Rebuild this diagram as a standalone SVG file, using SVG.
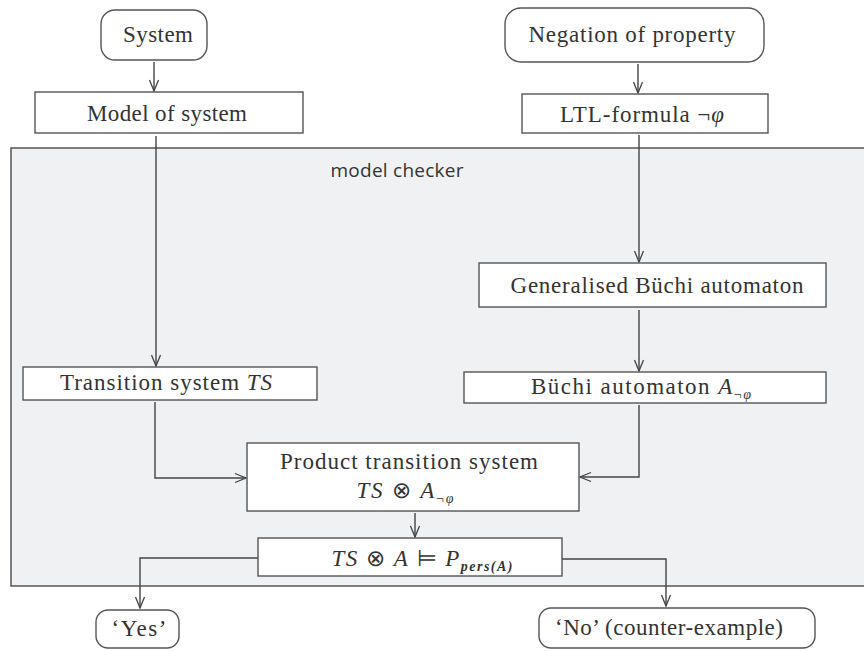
<svg xmlns="http://www.w3.org/2000/svg" width="864" height="651" viewBox="0 0 864 651">
<defs>
<marker id="arr" viewBox="-12 -6 14 12" markerWidth="14" markerHeight="12" refX="0" refY="0" orient="auto" markerUnits="userSpaceOnUse">
<path d="M-11,-4.5 L0,0 L-11,4.5" fill="none" stroke="#444" stroke-width="1.3"/>
</marker>
</defs>
<style>
.box{fill:#fff;stroke:#555;stroke-width:1.4}
.mc{fill:#f0f1f3;stroke:#555;stroke-width:1.5}
.t{font-family:"Liberation Serif","Times New Roman",serif;font-size:23px;fill:#333;text-anchor:middle}
.it{font-style:italic}
.sub{font-size:14px}
.lbl{font-family:"Open Sans","Noto Sans",sans-serif;font-size:19px;fill:#333;text-anchor:middle}
.c{fill:none;stroke:#444;stroke-width:1.4}
</style>
<rect id="model-checker" class="mc" x="11" y="148" width="870" height="438"/>
<text class="lbl" x="397" y="177" textLength="133" lengthAdjust="spacing">model checker</text>

<g id="connectors">
<path class="c" d="M154,62 V91" marker-end="url(#arr)"/>
<path class="c" d="M156,136 V366" marker-end="url(#arr)"/>
<path class="c" d="M155,402 V478 H246" marker-end="url(#arr)"/>
<path class="c" d="M638,64 V93" marker-end="url(#arr)"/>
<path class="c" d="M639,135 V262" marker-end="url(#arr)"/>
<path class="c" d="M639,310 V371" marker-end="url(#arr)"/>
<path class="c" d="M639,405 V477 H580" marker-end="url(#arr)"/>
<path class="c" d="M415,513 V537" marker-end="url(#arr)"/>
<path class="c" d="M258,558 H140 V608" marker-end="url(#arr)"/>
<path class="c" d="M562,559 H666 V606" marker-end="url(#arr)"/>
</g>

<g id="system">
<rect class="box" x="101" y="10" width="106" height="50" rx="14"/>
<text class="t" x="158" y="42" textLength="70" lengthAdjust="spacing">System</text>
</g>
<g id="model-of-system">
<rect class="box" x="35" y="92" width="268" height="41"/>
<text class="t" x="167" y="121" textLength="160" lengthAdjust="spacing">Model of system</text>
</g>
<g id="negation">
<rect class="box" x="505" y="8" width="259" height="54" rx="16"/>
<text class="t" x="632" y="42" textLength="207" lengthAdjust="spacing">Negation of property</text>
</g>
<g id="ltl">
<rect class="box" x="522" y="94" width="246" height="39"/>
<text class="t" x="642" y="122" textLength="164" lengthAdjust="spacing">LTL-formula ¬<tspan class="it">φ</tspan></text>
</g>
<g id="gba">
<rect class="box" x="479" y="263" width="347" height="44"/>
<text class="t" x="657" y="293" textLength="293" lengthAdjust="spacing">Generalised Büchi automaton</text>
</g>
<g id="ts">
<rect class="box" x="23" y="367" width="294" height="33"/>
<text class="t" x="166" y="390" textLength="212" lengthAdjust="spacing">Transition system <tspan class="it">TS</tspan></text>
</g>
<g id="ba">
<rect class="box" x="464" y="372" width="362" height="31"/>
<text class="t" x="641" y="394" textLength="220" lengthAdjust="spacing">Büchi automaton <tspan class="it">A</tspan><tspan class="sub" dy="5">¬</tspan><tspan class="sub it">φ</tspan></text>
</g>
<g id="product">
<rect class="box" x="247" y="443" width="332" height="68"/>
<text class="t" x="409" y="469" textLength="258" lengthAdjust="spacing">Product transition system</text>
<text class="t" x="405" y="498" textLength="97" lengthAdjust="spacing"><tspan class="it">TS</tspan> ⊗ <tspan class="it">A</tspan><tspan class="sub" dy="5">¬</tspan><tspan class="sub it">φ</tspan></text>
</g>
<g id="check">
<rect class="box" x="258" y="538" width="304" height="38"/>
<text class="t" x="422" y="566" textLength="181" lengthAdjust="spacing"><tspan class="it">TS</tspan> ⊗ <tspan class="it">A</tspan> ⊨ <tspan class="it">P</tspan><tspan class="sub it" dy="5" font-weight="bold">pers(A)</tspan></text>
</g>
<g id="yes">
<rect class="box" x="96" y="610" width="83" height="38" rx="12"/>
<text class="t" x="139" y="636" textLength="55" lengthAdjust="spacing">‘Yes’</text>
</g>
<g id="no">
<rect class="box" x="539" y="608" width="276" height="40" rx="12"/>
<text class="t" x="669" y="635" textLength="228" lengthAdjust="spacing">‘No’ (counter-example)</text>
</g>
</svg>
